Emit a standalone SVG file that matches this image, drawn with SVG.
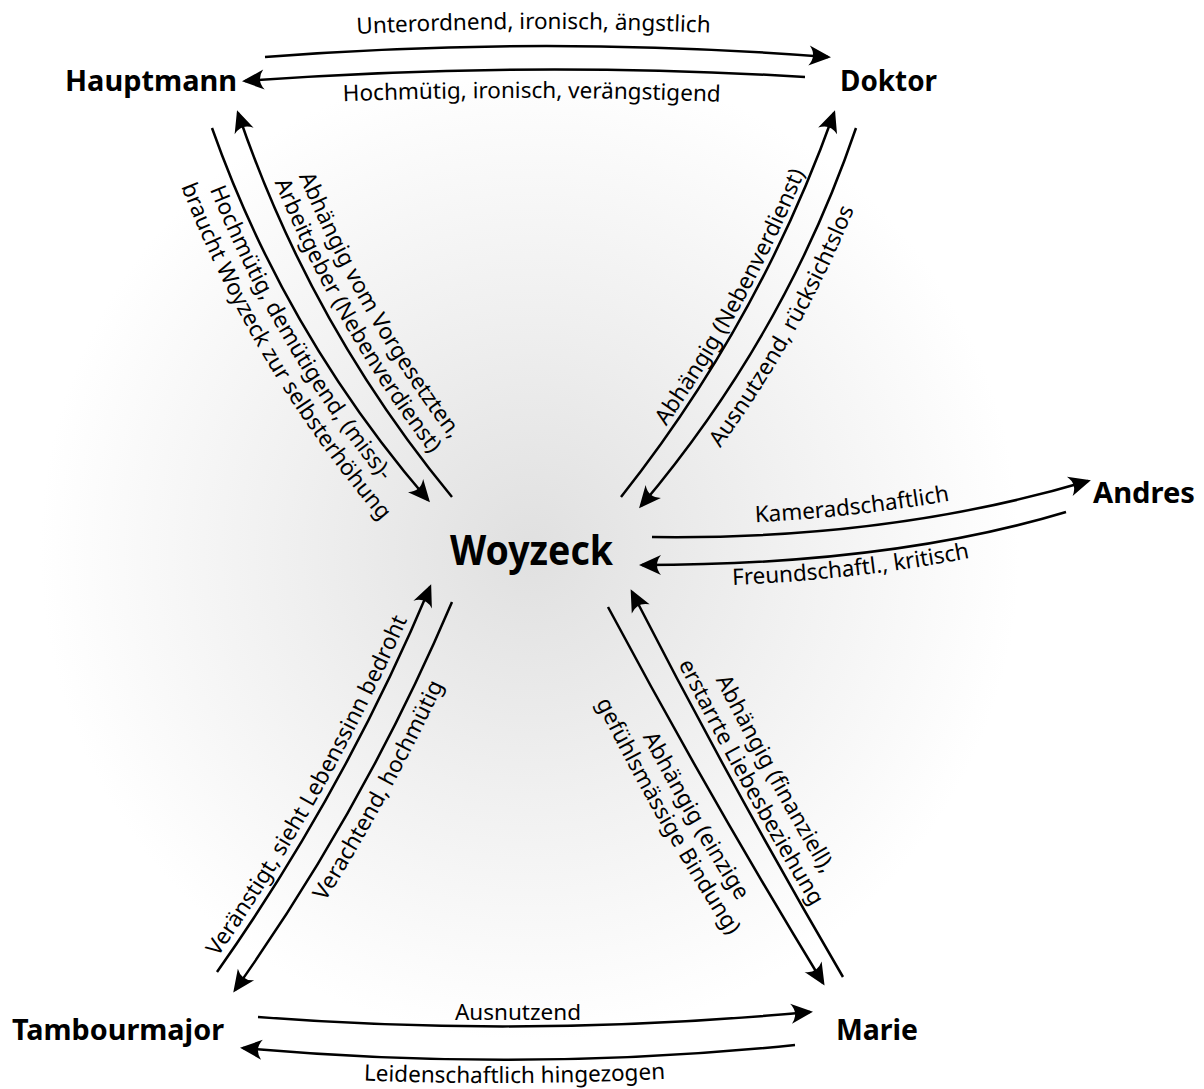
<svg xmlns="http://www.w3.org/2000/svg" width="1204" height="1089" viewBox="0 0 1204 1089">
<defs>
<radialGradient id="bg" gradientUnits="userSpaceOnUse" cx="530" cy="550" r="490">
<stop offset="0" stop-color="#e0e0e0"/>
<stop offset="0.5" stop-color="#f0f0f0"/>
<stop offset="1" stop-color="#ffffff"/>
</radialGradient>
<marker id="ah" markerUnits="userSpaceOnUse" viewBox="-24 -12 28 24" markerWidth="28" markerHeight="24" refX="-3" refY="0" orient="auto">
<path d="M0 0 L-22 -10 Q-14 0 -22 10 Z" fill="#000"/>
</marker>
<path id="tU" d="M265 40 Q546 18 828 40"/>
<path id="tL" d="M245 106 Q525 90 805 106"/>
<path id="hB2" d="M246.7 108 Q318.7 320 460.7 492"/>
<path id="hB1" d="M268.3 95.4 Q340.3 307.4 482.3 479.4"/>
<path id="hA1" d="M191.2 140 Q264.2 346 407.2 512"/>
<path id="hA2" d="M168.7 153.1 Q241.7 359.1 384.7 525.1"/>
<path id="dU" d="M615.8 494.1 Q753.8 320.1 828.8 110.1"/>
<path id="dD" d="M664.6 519.2 Q809.6 347.2 879.6 141.2"/>
<path id="aU" d="M652 524 C800 526 950 509 1088 468"/>
<path id="aL" d="M642 587 C790 587 940 572 1066 534"/>
<path id="tmU" d="M210 968.1 Q337.5 787.1 423 583.1"/>
<path id="tmD" d="M257.8 1002.6 Q387.3 820.2 474.8 614.6"/>
<path id="mU2" d="M640.8 587.2 Q734.9 785.8 851.8 972.2"/>
<path id="mU1" d="M663.6 574.7 Q757.7 773.3 874.6 959.7"/>
<path id="mD1" d="M585.2 619.5 Q675.2 817.1 800.2 995.5"/>
<path id="mD2" d="M562.4 632 Q652.4 829.6 777.4 1008"/>
<path id="bL" d="M245 1074 Q520 1094 795 1070"/>
</defs>
<style>
.node{font-family:"Noto Sans","Open Sans","DejaVu Sans",sans-serif;font-weight:bold;fill:#000}
.lbl{font-family:"Noto Sans","Open Sans","DejaVu Sans",sans-serif;font-size:22.5px;fill:#000}
.con path{fill:none;stroke:#000;stroke-width:2.5;marker-end:url(#ah)}
</style>
<rect x="0" y="0" width="1204" height="1089" fill="url(#bg)"/>

<g id="connectors" class="con">
<path d="M265 57 Q546 35 828 57"/>
<path d="M805 77 Q525 60 245 81"/>
<path d="M212 128 Q285 334 428 500"/>
<path d="M452 497 Q310 325 238 113"/>
<path d="M621 497 Q759 323 834 113"/>
<path d="M856 128 Q786 334 641 506"/>
<path d="M652 537 C800 539 950 522 1088 481"/>
<path d="M1066 512 C940 550 790 565 642 565"/>
<path d="M217 972 Q344.5 791 430 587"/>
<path d="M452 602 Q364.5 807.6 235 990"/>
<path d="M843 977 Q732 787 632 592"/>
<path d="M608 607 Q710 798 823 983"/>
<path d="M258 1017 Q530 1038 810 1012"/>
<path d="M795 1045 Q520 1073 243 1048"/>
</g>

<g id="labels" class="lbl" text-anchor="middle">
<text><textPath href="#tU" startOffset="47.7%">Unterordnend, ironisch, ängstlich</textPath></text>
<text><textPath href="#tL" startOffset="51.2%">Hochmütig, ironisch, verängstigend</textPath></text>
<text><textPath href="#hB1" startOffset="54%">Abhängig vom Vorgesetzten,</textPath></text>
<text><textPath href="#hB2" startOffset="53.5%">Arbeitgeber (Nebenverdienst)</textPath></text>
<text><textPath href="#hA1" startOffset="51.5%">Hochmütig, demütigend, (miss)-</textPath></text>
<text><textPath href="#hA2" startOffset="53.5%">braucht Woyzeck zur selbsterhöhung</textPath></text>
<text><textPath href="#dU" startOffset="52%">Abhängig (Nebenverdienst)</textPath></text>
<text><textPath href="#dD" startOffset="52%">Ausnutzend, rücksichtslos</textPath></text>
<text><textPath href="#aU" startOffset="45.6%">Kameradschaftlich</textPath></text>
<text><textPath href="#aL" startOffset="49%">Freundschaftl., kritisch</textPath></text>
<text><textPath href="#tmU" startOffset="47%">Veränstigt, sieht Lebenssinn bedroht</textPath></text>
<text><textPath href="#tmD" startOffset="55%">Verachtend, hochmütig</textPath></text>
<text><textPath href="#mU1" startOffset="52%">Abhängig (finanziell),</textPath></text>
<text><textPath href="#mU2" startOffset="51%">erstarrte Liebesbeziehung</textPath></text>
<text><textPath href="#mD1" startOffset="52%">Abhängig (einzige</textPath></text>
<text><textPath href="#mD2" startOffset="49%">gefühlsmässige Bindung)</textPath></text>
<text x="518" y="1020">Ausnutzend</text>
<text><textPath href="#bL" startOffset="49%">Leidenschaftlich hingezogen</textPath></text>
</g>

<g id="node-hauptmann"><text class="node" x="65" y="91" font-size="29" textLength="172" lengthAdjust="spacingAndGlyphs">Hauptmann</text></g>
<g id="node-doktor"><text class="node" x="840" y="91" font-size="29" textLength="97" lengthAdjust="spacingAndGlyphs">Doktor</text></g>
<g id="node-andres"><text class="node" x="1093" y="503" font-size="29" textLength="102" lengthAdjust="spacingAndGlyphs">Andres</text></g>
<g id="node-woyzeck"><text class="node" x="450" y="565" font-size="41" textLength="163" lengthAdjust="spacingAndGlyphs">Woyzeck</text></g>
<g id="node-tambourmajor"><text class="node" x="12" y="1040" font-size="29" textLength="212" lengthAdjust="spacingAndGlyphs">Tambourmajor</text></g>
<g id="node-marie"><text class="node" x="836" y="1040" font-size="29" textLength="82" lengthAdjust="spacingAndGlyphs">Marie</text></g>
</svg>
